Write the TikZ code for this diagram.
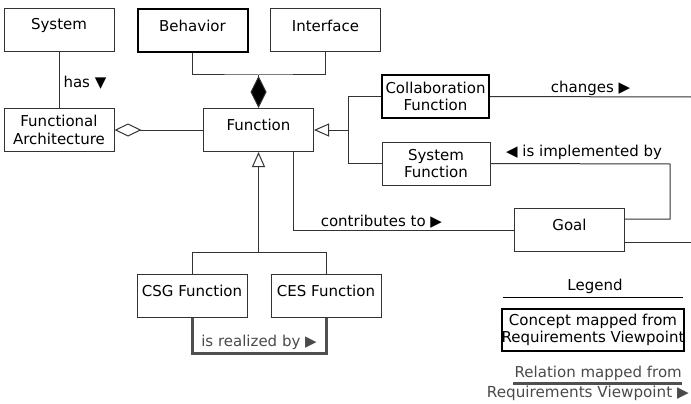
\documentclass[tikz,border=0pt]{standalone}
\usepackage{fontspec}
\setmainfont{DejaVu Sans}
\usetikzlibrary{arrows.meta}

\definecolor{linec}{HTML}{333333}
\definecolor{relgray}{HTML}{4A4A4A}
\definecolor{relline}{HTML}{505050}

\tikzset{
  every node/.style={font=\fontsize{15}{17.5}\selectfont, text=black},
  box/.style={draw=linec, line width=1pt, fill=white, minimum width=110pt,
              minimum height=43pt, inner sep=0pt, align=center},
  keybox/.style={box, draw=black, line width=2pt},
  title/.style={label={[yshift=5pt]center:#1}},
  conn/.style={draw=linec, line width=1pt},
  mapped/.style={draw=relline, line width=3pt},
  rel/.style={font=\fontsize{15}{17.5}\selectfont, inner sep=1pt},
  relg/.style={rel, text=relgray},
}

\begin{document}
\begin{tikzpicture}[x=1pt, y=-1pt]
\useasboundingbox (0,0) rectangle (691,404);

% classes
\node[box, title=System]         (sys)  at (59,30)      {};
\node[keybox, title=Behavior]    (beh)  at (192.5,30.5) {};
\node[box, title=Interface]      (itf)  at (325.5,30.5) {};
\node[box]                       (fa)   at (59,130)     {Functional\\Architecture};
\node[box, title=Function]       (fn)   at (258.5,130)  {};
\node[keybox, minimum width=107pt] (cf) at (435.5,96.5) {Collaboration\\Function};
\node[box, minimum width=108pt]  (sf)   at (436,163.5)  {System\\Function};
\node[box, title=Goal]           (goal) at (569.5,230)  {};
\node[box, title=CSG Function]   (csg)  at (192,296)    {};
\node[box, title=CES Function]   (ces)  at (326,296)    {};

% junction points
\coordinate (comp) at (258.5,75);
\coordinate (spec) at (348,130);
\coordinate (gen)  at (258.5,252);
\coordinate (chg)  at (691,97);
\coordinate (impl) at (670,164);
\coordinate (out)  at (691,242);

% System has Functional Architecture
\draw[conn] (sys.south) -- node[rel, right, xshift=3pt, pos=0.55] {has ▼} (fa.north);

% Function is composed of Behavior and Interface
\draw[conn] (beh.south) |- (comp) -| (itf.south);
\draw[conn, -{Diamond[length=32pt, width=16pt, fill=black]}] (comp) -- (fn.north);

% Functional Architecture aggregates Functions
\draw[conn, -{Diamond[open, length=27pt, width=13pt, fill=white]}] (fn.west) -- (fa.east);

% specialisations of Function (right)
\draw[conn] (cf.west) -| (spec);
\draw[conn] (sf.west) -| (spec);
\draw[conn, -{Triangle[open, length=15pt, width=13pt, fill=white]}] (spec) -- (fn.east);

% specialisations of Function (below)
\draw[conn] (csg.north) |- (gen);
\draw[conn] (ces.north) |- (gen);
\draw[conn, -{Triangle[open, length=15pt, width=13pt, fill=white]}] (gen) -- (fn.south);

% associations
\draw[conn] ([xshift=34.5pt]fn.south) |- node[rel, above, pos=0.70] {contributes to ▶} (goal.west);
\draw[conn] (cf.east) -- node[rel, above, pos=0.5] {changes ▶} (chg);
\draw[conn] (sf.east) -- (impl) |- ([yshift=11pt]goal.east);
\node[rel, anchor=south] (implbl) at (584,161) {◀ is implemented by};
\draw[conn] ([yshift=-12pt]goal.east) -- (out);

% CSG Function is realized by CES Function
\draw[mapped] (csg.south) -- ++(0,35) -| node[relg, above, pos=0.25, yshift=1pt] {is realized by ▶} (ces.south);

% legend
\node[rel] (leg) at (595,286) {Legend};
\coordinate (legl) at (503,297);
\coordinate (legr) at (683,297);
\draw[conn, draw=black] (legl) -- (legr);
\node[keybox, minimum width=180pt, minimum height=42pt] (concept) at (593,330)
  {Concept mapped from\\Requirements Viewpoint};
\node[relg, anchor=east] (relA) at (683,373) {Relation mapped from};
\node[relg, anchor=east, font=\fontsize{15.2}{18}\selectfont] (relB) at (690,393) {Requirements Viewpoint ▶};
\coordinate (rl) at (513,383);
\coordinate (rr) at (682,383);
\draw[mapped] (rl) -- (rr);
\end{tikzpicture}
\end{document}
